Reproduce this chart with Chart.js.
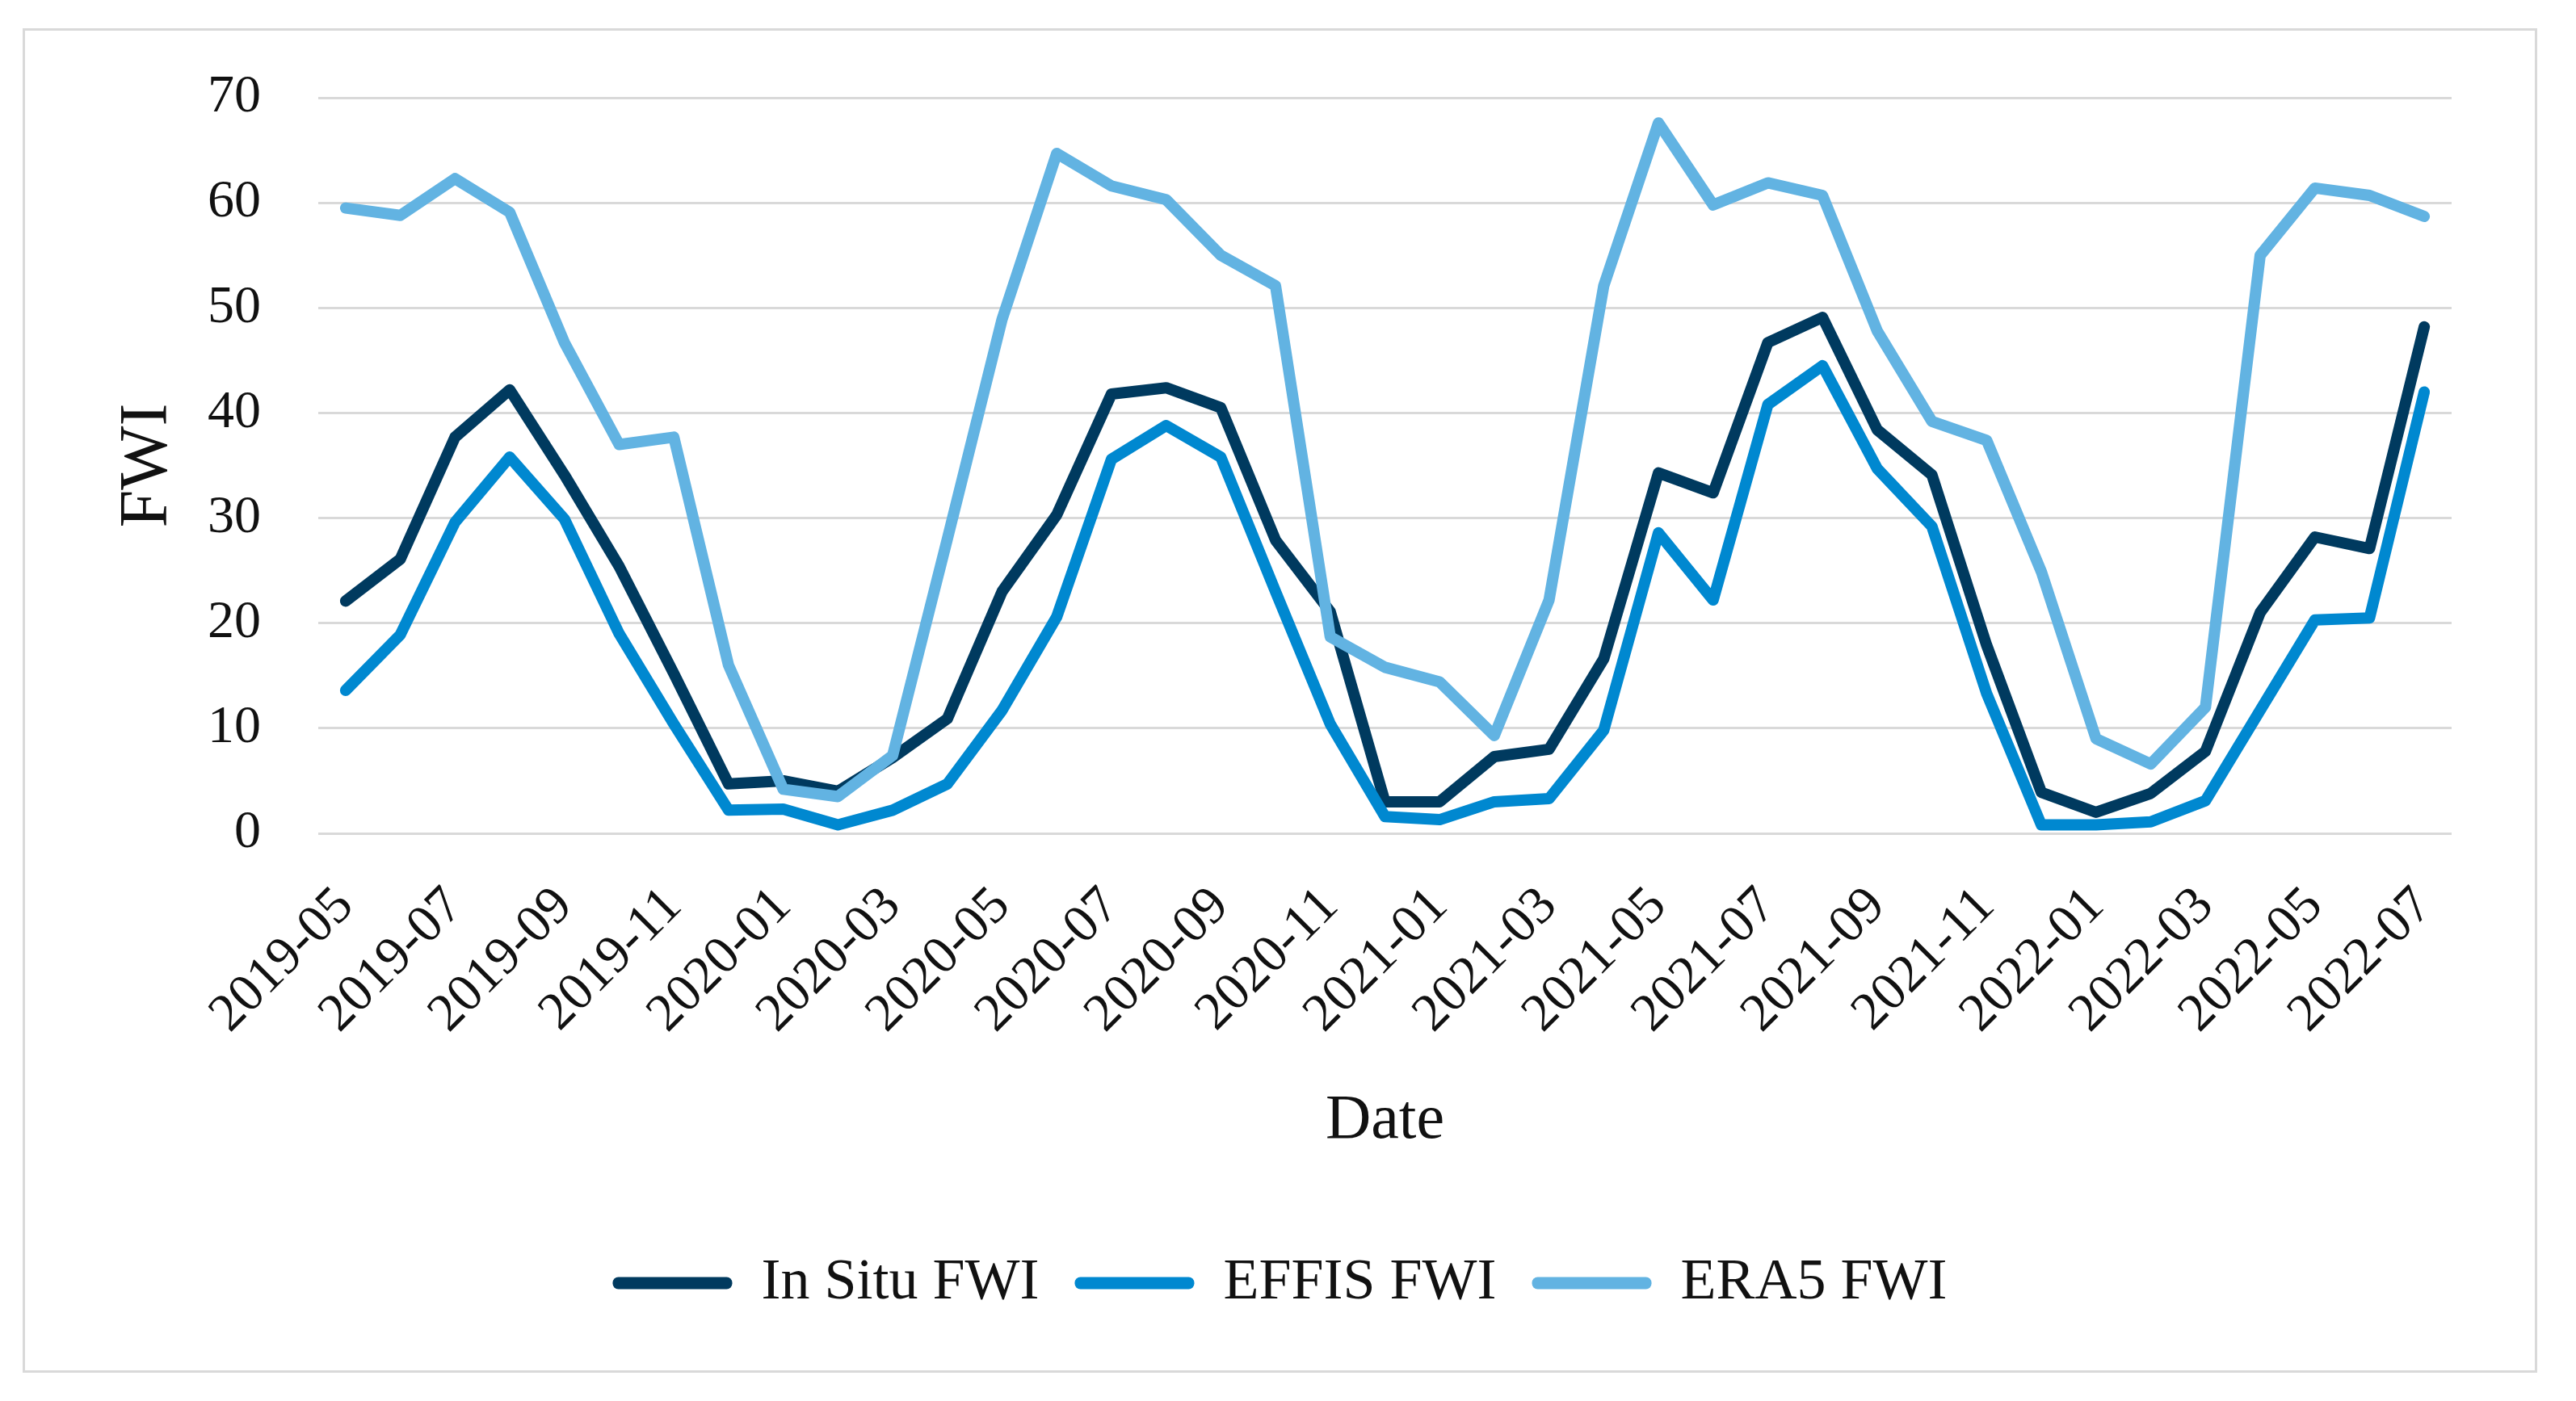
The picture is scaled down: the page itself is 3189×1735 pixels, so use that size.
<!DOCTYPE html>
<html>
<head>
<meta charset="utf-8">
<script src="https://cdn.jsdelivr.net/npm/chart.js@4.4.0/dist/chart.umd.min.js"></script>
<style>
  html, body { margin: 0; padding: 0; background: #fff; }
  #frame { position: absolute; left: 28px; top: 35px; width: 3107px; height: 1659px; border: 3px solid #d9d9d9; }
  canvas { display: block; }
</style>
</head>
<body>
<div id="frame"><canvas id="fwiChart" width="3107" height="1659"></canvas></div>
<script>
// monthly means, 2019-05 .. 2022-07
const months = [
  '2019-05','2019-06','2019-07','2019-08','2019-09','2019-10','2019-11','2019-12',
  '2020-01','2020-02','2020-03','2020-04','2020-05','2020-06','2020-07','2020-08',
  '2020-09','2020-10','2020-11','2020-12','2021-01','2021-02','2021-03','2021-04',
  '2021-05','2021-06','2021-07','2021-08','2021-09','2021-10','2021-11','2021-12',
  '2022-01','2022-02','2022-03','2022-04','2022-05','2022-06','2022-07'
];
const inSituFwi = [22.1, 26.1, 37.7, 42.2, 34.1, 25.4, 15.2, 4.7, 5.0, 4.0,
  7.2, 10.9, 23.0, 30.3, 41.8, 42.4, 40.5, 27.9, 21.1, 3.0, 3.0, 7.3, 8.0, 16.6,
  34.3, 32.4, 46.7, 49.1, 38.4, 34.1, 17.9, 3.9, 2.0, 3.8, 7.8, 21.0, 28.2, 27.1, 48.2];
const effisFwi = [13.6, 18.9, 29.6, 35.8, 29.9, 19.0, 10.4, 2.2, 2.3, 0.8,
  2.2, 4.7, 11.7, 20.6, 35.6, 38.8, 35.8, 23.0, 10.4, 1.6, 1.3, 3.0, 3.3, 9.8,
  28.6, 22.2, 40.8, 44.5, 34.7, 29.2, 13.3, 0.8, 0.8, 1.1, 3.1, 11.7, 20.3, 20.5, 42.0];
const era5Fwi = [59.5, 58.8, 62.3, 59.1, 46.7, 37.0, 37.7, 16.0, 4.2, 3.5,
  7.4, 28.0, 48.9, 64.7, 61.6, 60.3, 55.0, 52.1, 18.7, 15.8, 14.4, 9.3, 22.2, 52.1,
  67.6, 59.8, 61.9, 60.7, 47.8, 39.2, 37.4, 24.9, 9.0, 6.6, 12.0, 55.0, 61.4, 60.7, 58.7];

const FONT = "'Liberation Serif', 'DejaVu Serif', serif";
const INK = '#111';

function line(label, data, color, order) {
  return {
    label, data, order,
    borderColor: color, backgroundColor: color,
    borderWidth: 14, pointRadius: 0, tension: 0,
    borderCapStyle: 'round', borderJoinStyle: 'round'
  };
}

new Chart(document.getElementById('fwiChart').getContext('2d'), {
  type: 'line',
  data: {
    labels: months,
    datasets: [
      line('In Situ FWI', inSituFwi, '#003a5f', 3),
      line('EFFIS FWI', effisFwi, '#0088d0', 2),
      line('ERA5 FWI', era5Fwi, '#62b3e2', 1),
    ],
  },
  options: {
    responsive: false, animation: false, devicePixelRatio: 1,
    layout: { padding: { top: 83, right: 0, bottom: 62, left: 0 } },
    plugins: {
      tooltip: { enabled: false },
      legend: {
        position: 'bottom',
        labels: {
          color: INK, font: { family: FONT, size: 72 },
          boxWidth: 148, boxHeight: 15, padding: 44,
          useBorderRadius: true, borderRadius: 7,
          sort: (a, b) => a.datasetIndex - b.datasetIndex,
          generateLabels(chart) {
            return Chart.defaults.plugins.legend.labels.generateLabels(chart)
              .map(it => Object.assign(it, { lineWidth: 0, fillStyle: it.strokeStyle }));
          }
        }
      }
    },
    scales: {
      x: {
        offset: true,
        grid: { display: false },
        border: { display: false },
        ticks: {
          autoSkip: false, maxRotation: 45, minRotation: 45, padding: 44,
          color: INK, font: { family: FONT, size: 66 },
          callback: (v, i) => (i % 2 === 0 ? months[i] : '')
        },
        title: { display: true, text: 'Date', color: INK, font: { family: FONT, size: 78 }, padding: { top: 0, bottom: 74 } },
        afterFit(scale) { scale.height = 477; }
      },
      y: {
        min: 0, max: 70,
        grid: { color: '#d9d9d9', lineWidth: 3, drawTicks: false },
        border: { display: false },
        ticks: { stepSize: 10, padding: 71, color: INK, font: { family: FONT, size: 66 } },
        title: { display: true, text: 'FWI', color: INK, font: { family: FONT, size: 84 }, padding: { top: 103, bottom: 0 } },
        afterFit(scale) {
          scale.width = 363;
          // keep the label padding from pushing the plot area down
          scale.paddingTop = 0;
          scale.paddingBottom = 0;
        }
      },
      // empty right margin so the legend centres on the whole frame
      gutter: {
        position: 'right',
        grid: { display: false },
        border: { display: false },
        ticks: { display: false },
        afterFit(scale) { scale.width = 103; }
      }
    }
  }
});
</script>
</body>
</html>
